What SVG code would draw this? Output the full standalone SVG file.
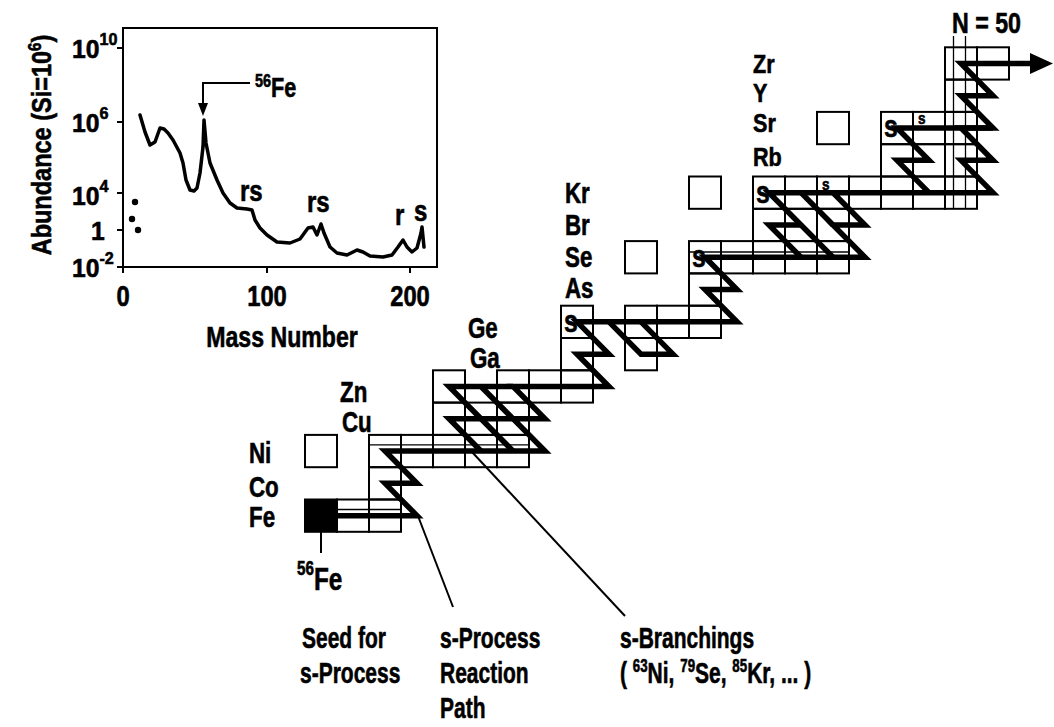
<svg xmlns="http://www.w3.org/2000/svg" width="1054" height="727" viewBox="0 0 1054 727">
<style>
.t{font-family:"Liberation Sans",Arial,sans-serif;font-weight:700;fill:#000;stroke:#000;stroke-width:0.6}
.c{fill:none;stroke:#000;stroke-width:2}
.ln{fill:none;stroke:#000;stroke-width:1.3}
.p{fill:none;stroke:#000;stroke-width:5.5;stroke-linejoin:miter;stroke-miterlimit:4}
.ld{fill:none;stroke:#000;stroke-width:2}
.cv{fill:none;stroke:#000;stroke-width:3.5;stroke-linejoin:round;stroke-linecap:round}
</style>
<rect width="1054" height="727" fill="#fff"/>

<g id="abundance-chart">
  <rect x="123" y="28" width="314" height="239" class="c" stroke-width="2.5"/>
  <path class="ld" d="M117,48H123M117,122H123M117,193H123M117,230H123M117,267H123M123,267V273M267,267V273M410,267V273"/>
  <g class="t" font-size="26">
    <text transform="translate(72,58) scale(0.95,1)">10<tspan font-size="17" dy="-13">10</tspan></text>
    <text transform="translate(72,132) scale(0.95,1)">10<tspan font-size="17" dy="-13">6</tspan></text>
    <text transform="translate(72,205) scale(0.95,1)">10<tspan font-size="17" dy="-13">4</tspan></text>
    <text transform="translate(91,240) scale(0.95,1)">1</text>
    <text transform="translate(72,277) scale(0.95,1)">10<tspan font-size="17" dy="-13">-2</tspan></text>
  </g>
  <g class="t" font-size="29" text-anchor="middle">
    <text transform="translate(123,306) scale(0.82,1)">0</text>
    <text transform="translate(267,306) scale(0.82,1)">100</text>
    <text transform="translate(410,306) scale(0.82,1)">200</text>
    <text transform="translate(282,347) scale(0.77,1)" font-size="30">Mass Number</text>
    <text transform="translate(51,145) rotate(-90) scale(0.84,1)" font-size="28">Abundance (Si=10<tspan font-size="18" dy="-10">6</tspan><tspan dy="10">)</tspan></text>
  </g>
  <path class="cv" d="M140,115 L145,132 L150,145 L155,142 L160,128 L164,129 L168,133 L173,140 L180,153 L183,163 L186,180 L190,190 L194,191 L197,188 L200,173 L203,147 L204,120 L206,143 L210,163 L217,180 L223,193 L230,203 L237,208 L247,209 L252,210 L255,220 L260,228 L267,235 L277,242 L290,243 L300,239 L308,228 L313,227 L317,235 L321,224 L324,233 L330,247 L337,253 L347,255 L357,250 L363,252 L370,256 L383,257 L392,255 L398,247 L403,240 L407,247 L412,252 L417,248 L421,233 L422,227 L424,247"/>
  <circle cx="135" cy="202" r="3.2"/>
  <circle cx="132" cy="219" r="3.2"/>
  <circle cx="138" cy="230" r="3.2"/>
  <path class="ld" d="M250,83H203V104"/>
  <polygon points="198,103 208,103 203,116"/>
  <g class="t">
    <text transform="translate(255,97) scale(0.8,1)" font-size="27"><tspan font-size="18" dy="-10">56</tspan><tspan dy="10">Fe</tspan></text>
    <text transform="translate(240,201) scale(0.8,1)" font-size="30">rs</text>
    <text transform="translate(307,212) scale(0.8,1)" font-size="30">rs</text>
    <text transform="translate(395,225) scale(0.8,1)" font-size="30">r</text>
    <text transform="translate(414,221) scale(0.8,1)" font-size="30">s</text>
  </g>
</g>

<g id="element-labels" class="t" font-size="29">
  <text transform="translate(249,463) scale(0.77,1)">Ni</text>
  <text transform="translate(249,497) scale(0.77,1)">Co</text>
  <text transform="translate(249,527) scale(0.77,1)">Fe</text>
  <text transform="translate(340,402) scale(0.77,1)">Zn</text>
  <text transform="translate(342,432) scale(0.77,1)">Cu</text>
  <text transform="translate(468,338) scale(0.77,1)">Ge</text>
  <text transform="translate(470,368) scale(0.77,1)">Ga</text>
  <text transform="translate(565,203) scale(0.77,1)">Kr</text>
  <text transform="translate(565,235) scale(0.77,1)">Br</text>
  <text transform="translate(565,267) scale(0.77,1)">Se</text>
  <text transform="translate(565,298) scale(0.77,1)">As</text>
  <text transform="translate(753,73) scale(0.83,1)" font-size="26">Zr</text>
  <text transform="translate(753,102) scale(0.83,1)" font-size="26">Y</text>
  <text transform="translate(753,132) scale(0.83,1)" font-size="26">Sr</text>
  <text transform="translate(753,166) scale(0.83,1)" font-size="26">Rb</text>
  <text transform="translate(952,33) scale(0.8,1)">N = 50</text>
</g>

<g id="row-Fe">
  <rect x="305" y="499.5" width="32" height="32.3" fill="#000" stroke="#000" stroke-width="2"/>
  <rect class="c" x="337" y="499.5" width="32" height="32.3"/>
  <rect class="c" x="369" y="499.5" width="32" height="32.3"/>
  <path class="ln" d="M337,509.5H401"/>
</g>
<g id="row-Co"><rect class="c" x="369" y="467.2" width="32" height="32.3"/></g>
<g id="row-Ni">
  <rect class="c" x="305" y="434.9" width="32" height="32.3"/>
  <rect class="c" x="369" y="434.9" width="32" height="32.3"/>
  <rect class="c" x="401" y="434.9" width="32" height="32.3"/>
  <rect class="c" x="433" y="434.9" width="32" height="32.3"/>
  <rect class="c" x="465" y="434.9" width="32" height="32.3"/>
  <rect class="c" x="497" y="434.9" width="32" height="32.3"/>
  <path class="ln" d="M369,444.9H529"/>
</g>
<g id="row-Cu">
  <rect class="c" x="433" y="402.6" width="32" height="32.3"/>
  <rect class="c" x="465" y="402.6" width="32" height="32.3"/>
  <rect class="c" x="497" y="402.6" width="32" height="32.3"/>
</g>
<g id="row-Zn">
  <rect class="c" x="433" y="370.3" width="32" height="32.3"/>
  <rect class="c" x="497" y="370.3" width="32" height="32.3"/>
  <rect class="c" x="529" y="370.3" width="32" height="32.3"/>
  <rect class="c" x="561" y="370.3" width="32" height="32.3"/>
</g>
<g id="row-Ga">
  <rect class="c" x="561" y="338" width="32" height="32.3"/>
  <rect class="c" x="625" y="338" width="32" height="32.3"/>
</g>
<g id="row-Ge">
  <rect class="c" x="561" y="305.7" width="32" height="32.3"/>
  <rect class="c" x="625" y="305.7" width="32" height="32.3"/>
  <rect class="c" x="657" y="305.7" width="32" height="32.3"/>
  <rect class="c" x="689" y="305.7" width="32" height="32.3"/>
  <text class="t" font-size="31" transform="translate(564,332) scale(0.8,1)">s</text>
</g>
<g id="row-As"><rect class="c" x="689" y="273.4" width="32" height="32.3"/></g>
<g id="row-Se">
  <rect class="c" x="625" y="241.1" width="32" height="32.3"/>
  <rect class="c" x="689" y="241.1" width="32" height="32.3"/>
  <rect class="c" x="721" y="241.1" width="32" height="32.3"/>
  <rect class="c" x="753" y="241.1" width="32" height="32.3"/>
  <rect class="c" x="785" y="241.1" width="32" height="32.3"/>
  <rect class="c" x="817" y="241.1" width="32" height="32.3"/>
  <path class="ln" d="M689,252H849"/>
  <text class="t" font-size="31" transform="translate(692,267) scale(0.8,1)">s</text>
</g>
<g id="row-Br">
  <rect class="c" x="753" y="208.8" width="32" height="32.3"/>
  <rect class="c" x="785" y="208.8" width="32" height="32.3"/>
  <rect class="c" x="817" y="208.8" width="32" height="32.3"/>
</g>
<g id="row-Kr">
  <rect class="c" x="689" y="176.5" width="32" height="32.3"/>
  <rect class="c" x="753" y="176.5" width="32" height="32.3"/>
  <rect class="c" x="785" y="176.5" width="32" height="32.3"/>
  <rect class="c" x="817" y="176.5" width="32" height="32.3"/>
  <rect class="c" x="849" y="176.5" width="32" height="32.3"/>
  <rect class="c" x="881" y="176.5" width="32" height="32.3"/>
  <rect class="c" x="913" y="176.5" width="32" height="32.3"/>
  <rect class="c" x="945" y="176.5" width="32" height="32.3"/>
  <text class="t" font-size="31" transform="translate(756,203) scale(0.8,1)">s</text>
  <text class="t" font-size="17" transform="translate(822,190) scale(0.8,1)">s</text>
</g>
<g id="row-Rb">
  <rect class="c" x="881" y="144.2" width="32" height="32.3"/>
  <rect class="c" x="913" y="144.2" width="32" height="32.3"/>
  <rect class="c" x="945" y="144.2" width="32" height="32.3"/>
</g>
<g id="row-Sr">
  <rect class="c" x="817" y="111.9" width="32" height="32.3"/>
  <rect class="c" x="881" y="111.9" width="32" height="32.3"/>
  <rect class="c" x="913" y="111.9" width="32" height="32.3"/>
  <rect class="c" x="945" y="111.9" width="32" height="32.3"/>
  <text class="t" font-size="31" transform="translate(884,137) scale(0.8,1)">s</text>
  <text class="t" font-size="17" transform="translate(918,124) scale(0.8,1)">s</text>
</g>
<g id="row-Y"><rect class="c" x="945" y="79.6" width="32" height="32.3"/></g>
<g id="row-Zr">
  <rect class="c" x="945" y="47.3" width="32" height="32.3"/>
  <rect class="c" x="977" y="47.3" width="32" height="32.3"/>
</g>
<g id="n50-marker">
  <path class="ln" d="M953.5,36V208.8M965.5,36V208.8"/>
</g>

<g id="connectors">
  <path class="p" d="M321,515.65H417L385,483.35H417L385,451.05H545L513,418.75H545L513,386.45H609L577,354.15H609L577,321.85H737L705,289.55H737L705,257.25H865L833,224.95H865L833,192.65H993L961,160.35H993L961,128.05H993L961,95.75H993L961,63.45H1031"/>
  <path class="p" d="M513,451.05L449,386.45H513"/>
  <path class="p" d="M481,451.05L449,418.75H513"/>
  <path class="p" d="M481,386.45L513,418.75"/>
  <path class="p" d="M609,321.85L641,354.15H673L641,321.85"/>
  <path class="p" d="M801,257.25L769,224.95H801"/>
  <path class="p" d="M833,257.25L769,192.65H833"/>
  <path class="p" d="M801,192.65L833,224.95"/>
  <path class="p" d="M929,192.65L897,160.35H929L897,128.05H993"/>
  <polygon points="1030,53 1053,63.45 1030,74"/>
  <path class="ld" d="M321,532V553"/>
  <path class="ld" d="M418,516L453,607"/>
  <path class="ld" d="M472,452L625,616"/>
</g>

<g id="bottom-labels" class="t" font-size="30">
  <text transform="translate(297,590) scale(0.76,1)" font-size="32"><tspan font-size="20" dy="-15">56</tspan><tspan dy="15">Fe</tspan></text>
  <text transform="translate(302,648) scale(0.7,1)">Seed for</text>
  <text transform="translate(300,683) scale(0.7,1)">s-Process</text>
  <text transform="translate(440,648) scale(0.7,1)">s-Process</text>
  <text transform="translate(440,683) scale(0.7,1)">Reaction</text>
  <text transform="translate(440,718) scale(0.7,1)">Path</text>
  <text transform="translate(620,648) scale(0.7,1)">s-Branchings</text>
  <text transform="translate(620,683) scale(0.7,1)">( <tspan font-size="19" dy="-11">63</tspan><tspan dy="11">Ni, </tspan><tspan font-size="19" dy="-11">79</tspan><tspan dy="11">Se, </tspan><tspan font-size="19" dy="-11">85</tspan><tspan dy="11">Kr, ... )</tspan></text>
</g>
</svg>
